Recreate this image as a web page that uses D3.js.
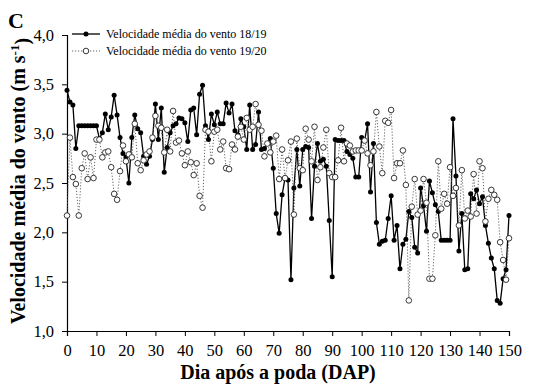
<!DOCTYPE html>
<html>
<head>
<meta charset="utf-8">
<script src="https://cdn.jsdelivr.net/npm/d3@7"></script>
<style>
  html, body { margin: 0; padding: 0; background: #fff; }
  svg { display: block; }
  text { font-family: "Liberation Serif", "Times New Roman", serif; fill: #000; }
</style>
</head>
<body>
<svg id="chart" width="533" height="387"></svg>
<script>
// Mean wind speed per day after pruning (DAP), two seasons
const days = d3.range(0, 151);

const wind1819 = [
  3.44, 3.32, 3.29, 2.85, 3.08, 3.08, 3.08, 3.08, 3.08, 3.08,
  3.08, 2.95, 3.01, 3.20, 3.04, 3.17, 3.39, 3.19, 2.96, 2.80,
  2.76, 2.50, 2.96, 3.19, 3.05, 3.01, 2.77, 2.69, 2.77, 2.94,
  3.30, 2.94, 3.26, 2.61, 2.86, 3.01, 3.08, 3.10, 3.16, 3.15,
  3.11, 2.92, 3.24, 3.26, 2.99, 3.40, 3.49, 3.08, 2.94, 3.20,
  3.09, 3.22, 3.10, 3.10, 3.31, 3.21, 3.30, 3.03, 2.99, 3.15,
  3.07, 2.84, 3.29, 2.84, 2.89, 3.22, 2.84, 2.85, 2.90, 2.95,
  2.65, 2.19, 1.99, 2.38, 2.55, 2.53, 1.52, 2.45, 2.84, 2.47,
  2.84, 2.87, 2.86, 2.14, 2.67, 2.90, 2.72, 2.74, 2.67, 2.12,
  1.55, 2.94, 2.93, 2.93, 2.93, 2.82, 2.79, 2.75, 2.56, 2.56,
  2.96, 2.93, 3.10, 2.41, 2.90, 2.10, 1.88, 1.91, 1.92, 2.14,
  2.37, 1.92, 2.07, 1.63, 1.88, 1.93, 2.21, 2.15, 1.85, 1.79,
  2.45, 2.27, 2.01, 2.52, 2.40, 2.28, 2.21, 1.92, 1.92, 1.92,
  1.92, 3.15, 2.57, 1.81, 2.19, 1.62, 1.63, 2.39, 2.34, 2.43,
  2.29, 2.36, 2.07, 1.89, 1.74, 1.63, 1.31, 1.28, 1.53, 1.62,
  2.17
];

const wind1920 = [
  2.17, 2.96, 2.56, 2.49, 2.17, 2.65, 2.80, 2.54, 2.76, 2.55,
  2.94, 2.94, 2.76, 2.81, 2.82, 2.66, 2.39, 2.33, 2.62, 2.88,
  2.72, 2.79, 2.76, 3.10, 2.70, 2.63, 2.73, 2.79, 2.82, 2.96,
  3.18, 3.08, 3.06, 2.81, 3.04, 2.82, 3.23, 2.91, 2.93, 2.80,
  2.68, 2.82, 2.71, 2.58, 2.70, 2.37, 2.25, 3.04, 3.02, 2.72,
  3.02, 3.04, 2.84, 2.92, 2.65, 2.64, 2.89, 2.84, 2.97, 3.07,
  2.94, 3.16, 3.04, 3.07, 3.30, 3.09, 3.03, 2.77, 2.90, 2.81,
  2.92, 2.98, 2.54, 2.84, 2.55, 2.73, 2.92, 2.18, 2.95, 2.65,
  2.63, 3.05, 2.94, 2.72, 3.07, 2.53, 2.66, 2.86, 3.04, 2.60,
  2.56, 2.56, 2.73, 3.06, 2.72, 2.90, 2.88, 2.82, 2.83, 2.83,
  2.83, 2.93, 2.80, 2.68, 2.82, 3.22, 2.87, 2.60, 3.13, 3.11,
  3.24, 2.55, 2.70, 2.70, 2.83, 2.48, 1.31, 2.26, 2.54, 2.18,
  2.22, 2.54, 2.30, 1.53, 1.53, 1.97, 2.72, 2.24, 2.39, 2.29,
  2.66, 2.37, 2.45, 2.07, 2.63, 2.14, 2.22, 2.16, 2.59, 2.19,
  2.72, 2.65, 2.11, 2.34, 2.43, 2.38, 2.33, 1.90, 1.72, 1.52,
  1.94
];

const seriesNames = ["Velocidade média do vento 18/19", "Velocidade média do vento 19/20"];
const xTicks = d3.range(0, 151, 10);
const yTicks = [1.0, 1.5, 2.0, 2.5, 3.0, 3.5, 4.0];

const svg = d3.select("#chart");
const plot = { left: 67, right: 509, top: 35, bottom: 331 };

const x = d3.scaleLinear().domain([0, 150]).range([plot.left, plot.right]);
const y = d3.scaleLinear().domain([1, 4]).range([plot.bottom, plot.top]);
const fmt = v => d3.format(".1f")(v).replace(".", ",");

// axes
const xAxis = svg.append("g")
  .attr("transform", `translate(0,${plot.bottom})`)
  .call(d3.axisBottom(x).tickValues(xTicks).tickSize(5).tickPadding(8).tickFormat(d3.format("d")));
const yAxis = svg.append("g")
  .attr("transform", `translate(${plot.left},0)`)
  .call(d3.axisLeft(y).tickValues(yTicks).tickSize(5).tickPadding(8).tickFormat(fmt));

[xAxis, yAxis].forEach(g => {
  g.select(".domain").attr("stroke", "#000").attr("stroke-width", 1.2);
  g.selectAll(".tick line").attr("stroke", "#000").attr("stroke-width", 1);
  g.selectAll(".tick text")
    .style("font-family", "'Liberation Serif', 'Times New Roman', serif")
    .style("font-size", "16.5px").attr("fill", "#000");
});

const line = d3.line().x((d, i) => x(days[i])).y(d => y(d));

// series 18/19: solid line with filled circles
svg.append("path").datum(wind1819)
  .attr("d", line).attr("fill", "none")
  .attr("stroke", "#000").attr("stroke-width", 1.3);

// series 19/20: dotted line with open circles
svg.append("path").datum(wind1920)
  .attr("d", line).attr("fill", "none")
  .attr("stroke", "#666").attr("stroke-width", 1)
  .attr("stroke-dasharray", "1.2,1.8");

svg.append("g").selectAll("circle").data(wind1819).join("circle")
  .attr("cx", (d, i) => x(days[i])).attr("cy", d => y(d))
  .attr("r", 2.5).attr("fill", "#000");

svg.append("g").selectAll("circle").data(wind1920).join("circle")
  .attr("cx", (d, i) => x(days[i])).attr("cy", d => y(d))
  .attr("r", 2.8).attr("fill", "#fff").attr("stroke", "#222").attr("stroke-width", 0.9);

// legend
const legend = svg.append("g");
const legRows = [34, 51];
legend.append("line").attr("x1", 72).attr("x2", 100).attr("y1", legRows[0]).attr("y2", legRows[0])
  .attr("stroke", "#000").attr("stroke-width", 1.3);
legend.append("circle").attr("cx", 86).attr("cy", legRows[0]).attr("r", 2.5).attr("fill", "#000");
legend.append("line").attr("x1", 72).attr("x2", 100).attr("y1", legRows[1]).attr("y2", legRows[1])
  .attr("stroke", "#666").attr("stroke-width", 1).attr("stroke-dasharray", "1.2,1.8");
legend.append("circle").attr("cx", 86).attr("cy", legRows[1]).attr("r", 2.8)
  .attr("fill", "#fff").attr("stroke", "#222").attr("stroke-width", 0.9);
seriesNames.forEach((name, i) => {
  legend.append("text").attr("x", 106).attr("y", legRows[i]).attr("dy", "0.35em")
    .style("font-size", "12px").text(name);
});

// panel letter
svg.append("text").attr("x", 8).attr("y", 28)
  .style("font-size", "22px").style("font-weight", "bold").text("C");

// axis titles
svg.append("text")
  .attr("x", (plot.left + plot.right) / 2 - 10).attr("y", 379)
  .attr("text-anchor", "middle")
  .style("font-size", "20px").style("font-weight", "bold")
  .text("Dia após a poda (DAP)");

const yTitle = svg.append("text")
  .attr("transform", "translate(25,181) rotate(-90)")
  .attr("text-anchor", "middle")
  .style("font-size", "20px").style("font-weight", "bold");
yTitle.append("tspan").text("Velocidade média do vento (m s");
yTitle.append("tspan").attr("dy", "-0.5em").style("font-size", "13px").text("-1");
yTitle.append("tspan").attr("dy", "0.5em").text(")");
</script>
</body>
</html>
